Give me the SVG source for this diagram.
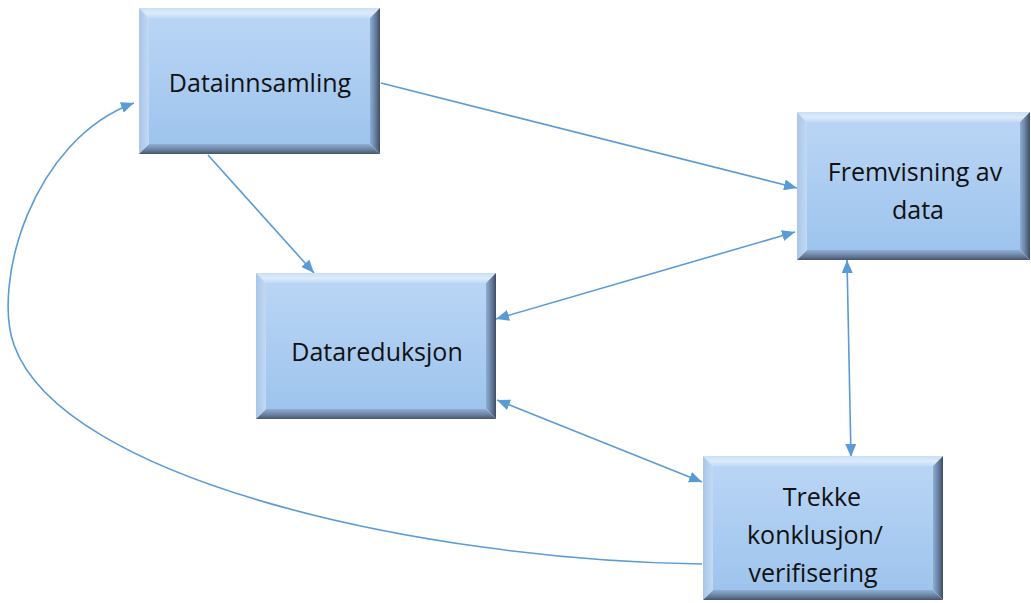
<svg xmlns="http://www.w3.org/2000/svg" width="1031" height="603" viewBox="0 0 1031 603">
  <style>
    .face { fill: url(#faceGrad); }
    .bTop { fill: url(#topGrad); }
    .bLeft { fill: url(#leftGrad); }
    .bRight { fill: url(#rightGrad); }
    .bBottom { fill: url(#bottomGrad); }
    .label { font-family: "Open Sans", "Liberation Sans", sans-serif; font-size: 25px; fill: #111111; text-anchor: middle; }
    .conn { fill: none; stroke: #5b9bd5; stroke-width: 1.6; }
  </style>
  <defs>
    <linearGradient id="faceGrad" x1="0" y1="0" x2="0" y2="1">
      <stop offset="0" stop-color="#b9d5f5"/>
      <stop offset="1" stop-color="#9ec4ed"/>
    </linearGradient>
    <linearGradient id="topGrad" x1="0" y1="0" x2="0" y2="1">
      <stop offset="0" stop-color="#c9def5"/>
      <stop offset="0.5" stop-color="#dcebfb"/>
      <stop offset="1" stop-color="#c3dbf6"/>
    </linearGradient>
    <linearGradient id="leftGrad" x1="0" y1="0" x2="1" y2="0">
      <stop offset="0" stop-color="#a9c6e8"/>
      <stop offset="1" stop-color="#c1d9f4"/>
    </linearGradient>
    <linearGradient id="rightGrad" x1="0" y1="0" x2="1" y2="0">
      <stop offset="0" stop-color="#8eaed3"/>
      <stop offset="0.6" stop-color="#62799a"/>
      <stop offset="1" stop-color="#3e4c60"/>
    </linearGradient>
    <linearGradient id="bottomGrad" x1="0" y1="0" x2="0" y2="1">
      <stop offset="0" stop-color="#90aed2"/>
      <stop offset="0.6" stop-color="#687f9e"/>
      <stop offset="1" stop-color="#465468"/>
    </linearGradient>
    <marker id="arrow" viewBox="0 0 13 11" refX="13" refY="5.5" markerWidth="13" markerHeight="11" markerUnits="userSpaceOnUse" orient="auto-start-reverse">
      <path d="M0,0 L13,5.5 L0,11 z" fill="#5b9bd5"/>
    </marker>
  </defs>

  <!-- connectors -->
  <g id="connectors">
    <line class="conn" x1="381" y1="83" x2="797" y2="188" marker-end="url(#arrow)"/>
    <line class="conn" x1="208" y1="155" x2="314" y2="273" marker-end="url(#arrow)"/>
    <line class="conn" x1="496" y1="319" x2="795" y2="232" marker-start="url(#arrow)" marker-end="url(#arrow)"/>
    <line class="conn" x1="497" y1="400" x2="702" y2="482" marker-start="url(#arrow)" marker-end="url(#arrow)"/>
    <line class="conn" x1="847" y1="260" x2="851" y2="457" marker-start="url(#arrow)" marker-end="url(#arrow)"/>
    <path class="conn" d="M702,564 C420,560 62,480 14,345 C-8,283 32,140 134,103" marker-end="url(#arrow)"/>
  </g>

  <!-- Datainnsamling -->
  <g id="node-datainnsamling">
    <rect class="face" x="149" y="18" width="221" height="126"/>
    <polygon class="bTop" points="139,8 380,8 370,18 149,18"/>
    <polygon class="bLeft" points="139,8 149,18 149,144 139,154"/>
    <polygon class="bRight" points="380,8 380,154 370,144 370,18"/>
    <polygon class="bBottom" points="139,154 149,144 370,144 380,154"/>
    <text class="label" x="260" y="92">Datainnsamling</text>
  </g>

  <!-- Datareduksjon -->
  <g id="node-datareduksjon">
    <rect class="face" x="266" y="283" width="220" height="126"/>
    <polygon class="bTop" points="256,273 496,273 486,283 266,283"/>
    <polygon class="bLeft" points="256,273 266,283 266,409 256,419"/>
    <polygon class="bRight" points="496,273 496,419 486,409 486,283"/>
    <polygon class="bBottom" points="256,419 266,409 486,409 496,419"/>
    <text class="label" x="377" y="361">Datareduksjon</text>
  </g>

  <!-- Fremvisning av data -->
  <g id="node-fremvisning">
    <rect class="face" x="807" y="122" width="213" height="128"/>
    <polygon class="bTop" points="797,112 1030,112 1020,122 807,122"/>
    <polygon class="bLeft" points="797,112 807,122 807,250 797,260"/>
    <polygon class="bRight" points="1030,112 1030,260 1020,250 1020,122"/>
    <polygon class="bBottom" points="797,260 807,250 1020,250 1030,260"/>
    <text class="label" x="915" y="181">Fremvisning av</text>
    <text class="label" x="918" y="219">data</text>
  </g>

  <!-- Trekke konklusjon/verifisering -->
  <g id="node-konklusjon">
    <rect class="face" x="713" y="466" width="220" height="124"/>
    <polygon class="bTop" points="703,456 943,456 933,466 713,466"/>
    <polygon class="bLeft" points="703,456 713,466 713,590 703,600"/>
    <polygon class="bRight" points="943,456 943,600 933,590 933,466"/>
    <polygon class="bBottom" points="703,600 713,590 933,590 943,600"/>
    <text class="label" x="822" y="506">Trekke</text>
    <text class="label" x="815" y="544">konklusjon/</text>
    <text class="label" x="813" y="582">verifisering</text>
  </g>
</svg>
